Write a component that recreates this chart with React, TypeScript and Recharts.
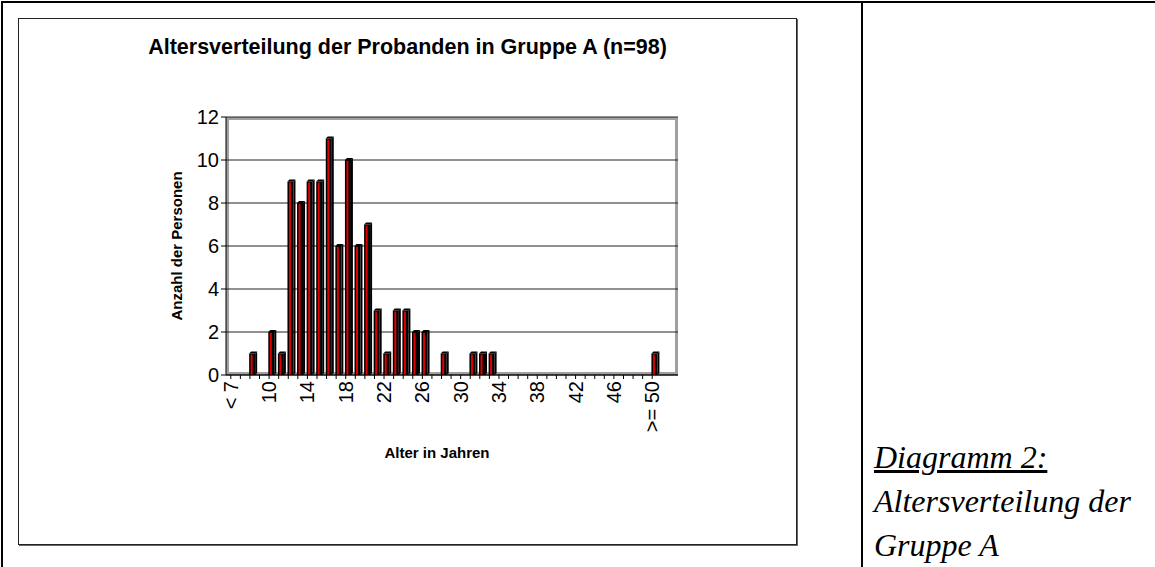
import { BarChart, Bar, XAxis, YAxis, CartesianGrid } from 'recharts';

const ageLabels = [
  '< 7', '7', '8', '9', '10', '11', '12', '13', '14', '15', '16', '17', '18', '19', '20',
  '21', '22', '23', '24', '25', '26', '27', '28', '29', '30', '31', '32', '33', '34', '35',
  '36', '37', '38', '39', '40', '41', '42', '43', '44', '45', '46', '47', '48', '49', '>= 50',
];

const personCounts = [
  0, 0, 1, 0, 2, 1, 9, 8, 9, 9, 11, 6, 10, 6, 7,
  3, 1, 3, 3, 2, 2, 0, 1, 0, 0, 1, 1, 1, 0, 0,
  0, 0, 0, 0, 0, 0, 0, 0, 0, 0, 0, 0, 0, 0, 1,
];

const yTicks = [0, 2, 4, 6, 8, 10, 12];

const chartData = ageLabels.map((age, i) => ({ age, count: personCounts[i] }));

const FONT = '"Liberation Sans", Arial, sans-serif';

// chart box geometry (page coords)
const BOX_LEFT = 18;
const BOX_TOP = 18;
const BOX_W = 779;
const BOX_H = 527;
const CHART_W = BOX_W - 2;
const CHART_H = BOX_H - 2;

const PLOT_LEFT = 207;
const PLOT_TOP = 98;
const PLOT_RIGHT = 659;
const PLOT_BOTTOM = 356;
const Y_AXIS_W = 40;
const X_AXIS_H = 60;

const Column3D = (props: any) => {
  const { x: x0, y, width, height } = props;
  if (!height || height <= 0) return null;
  const d = 2;
  const x = x0 + 2;
  return (
    <g>
      <polygon
        points={`${x + width},${y} ${x + width + d},${y - d} ${x + width + d},${y + height - d} ${x + width},${y + height}`}
        fill="#000"
      />
      <polygon
        points={`${x},${y} ${x + d},${y - d} ${x + width + d},${y - d} ${x + width},${y}`}
        fill="#000"
      />
      <rect x={x} y={y} width={width} height={height} fill="#000" />
      <rect x={x + width / 2 - 1.5} y={y + 1} width={2} height={height - 1} fill="#e00000" />
    </g>
  );
};

const AgeTick = (props: any) => {
  const { x, y, payload, index } = props;
  if (index % 4 !== 0) return null;
  return (
    <text
      x={x}
      y={y}
      transform={`rotate(-90, ${x}, ${y})`}
      textAnchor="end"
      dominantBaseline="central"
      fontFamily={FONT}
      fontSize={20}
      fill="#000"
    >
      {payload.value}
    </text>
  );
};

const App = () => {
  return (
    <div style={{ position: 'absolute', left: 0, top: 0, width: 1155, height: 567, background: '#fff', overflow: 'hidden' }}>
      {/* table borders */}
      <div style={{ position: 'absolute', left: 1, top: 1, width: 1160, height: 2, background: '#000' }} />
      <div style={{ position: 'absolute', left: 1, top: 1, width: 2, height: 570, background: '#000' }} />
      <div style={{ position: 'absolute', left: 861, top: 1, width: 2, height: 570, background: '#000' }} />

      <div
        style={{
          position: 'absolute',
          left: BOX_LEFT,
          top: BOX_TOP,
          width: BOX_W,
          height: BOX_H,
          boxSizing: 'border-box',
          border: '1px solid #222',
          boxShadow: '1px 1px 0 #666',
        }}
      >
        <div
          style={{
            position: 'absolute',
            left: 0,
            top: 16,
            width: CHART_W,
            textAlign: 'center',
            fontFamily: FONT,
            fontWeight: 'bold',
            fontSize: 21.5,
            lineHeight: '24px',
          }}
        >
          Altersverteilung der Probanden in Gruppe A (n=98)
        </div>
        {/* plot walls */}
        <div
          style={{
            position: 'absolute',
            left: PLOT_LEFT,
            top: PLOT_TOP,
            width: PLOT_RIGHT - PLOT_LEFT,
            height: PLOT_BOTTOM - PLOT_TOP,
            boxSizing: 'border-box',
            border: '3px solid #a0a0a0',
          }}
        />
        <div style={{ position: 'absolute', left: 0, top: 0 }}>
          <BarChart
            width={CHART_W}
            height={CHART_H}
            data={chartData}
            margin={{
              top: PLOT_TOP,
              right: CHART_W - PLOT_RIGHT,
              left: PLOT_LEFT - Y_AXIS_W,
              bottom: CHART_H - PLOT_BOTTOM - X_AXIS_H,
            }}
            barCategoryGap={0}
          >
            <CartesianGrid horizontal vertical={false} stroke="#222" />
            <XAxis
              dataKey="age"
              interval={0}
              height={X_AXIS_H}
              padding={{ left: 0, right: 21 }}
              tick={<AgeTick />}
              tickSize={4}
              tickMargin={2}
              tickLine={{ stroke: '#000' }}
              axisLine={{ stroke: '#000' }}
              label={{
                content: ({ viewBox }: any) => (
                  <text
                    x={viewBox.x + viewBox.width / 2 - 15}
                    y={viewBox.y + viewBox.height + 17}
                    textAnchor="middle"
                    dominantBaseline="central"
                    fontFamily={FONT}
                    fontWeight="bold"
                    fontSize={15}
                    fill="#000"
                  >
                    Alter in Jahren
                  </text>
                ),
              }}
            />
            <YAxis
              width={Y_AXIS_W}
              domain={[0, 12]}
              ticks={yTicks}
              interval={0}
              tickSize={5}
              tick={{ fontFamily: FONT, fontSize: 20, fill: '#000' }}
              tickLine={{ stroke: '#000' }}
              axisLine={{ stroke: '#000' }}
              label={{
                content: ({ viewBox }: any) => {
                  const cx = viewBox.x - 10;
                  const cy = viewBox.y + viewBox.height / 2;
                  return (
                    <text
                      x={cx}
                      y={cy}
                      transform={`rotate(-90, ${cx}, ${cy})`}
                      textAnchor="middle"
                      dominantBaseline="central"
                      fontFamily={FONT}
                      fontWeight="bold"
                      fontSize={15}
                      fill="#000"
                    >
                      Anzahl der Personen
                    </text>
                  );
                },
              }}
            />
            <Bar dataKey="count" barSize={6} shape={<Column3D />} isAnimationActive={false} />
          </BarChart>
        </div>
      </div>

      <div
        style={{
          position: 'absolute',
          left: 874,
          top: 435,
          fontFamily: '"Liberation Serif", "Times New Roman", serif',
          fontStyle: 'italic',
          fontSize: 32,
          lineHeight: '44px',
          color: '#000',
        }}
      >
        <div style={{ textDecoration: 'underline' }}>Diagramm 2:</div>
        <div>Altersverteilung der</div>
        <div>Gruppe A</div>
      </div>
    </div>
  );
};

export default App;
